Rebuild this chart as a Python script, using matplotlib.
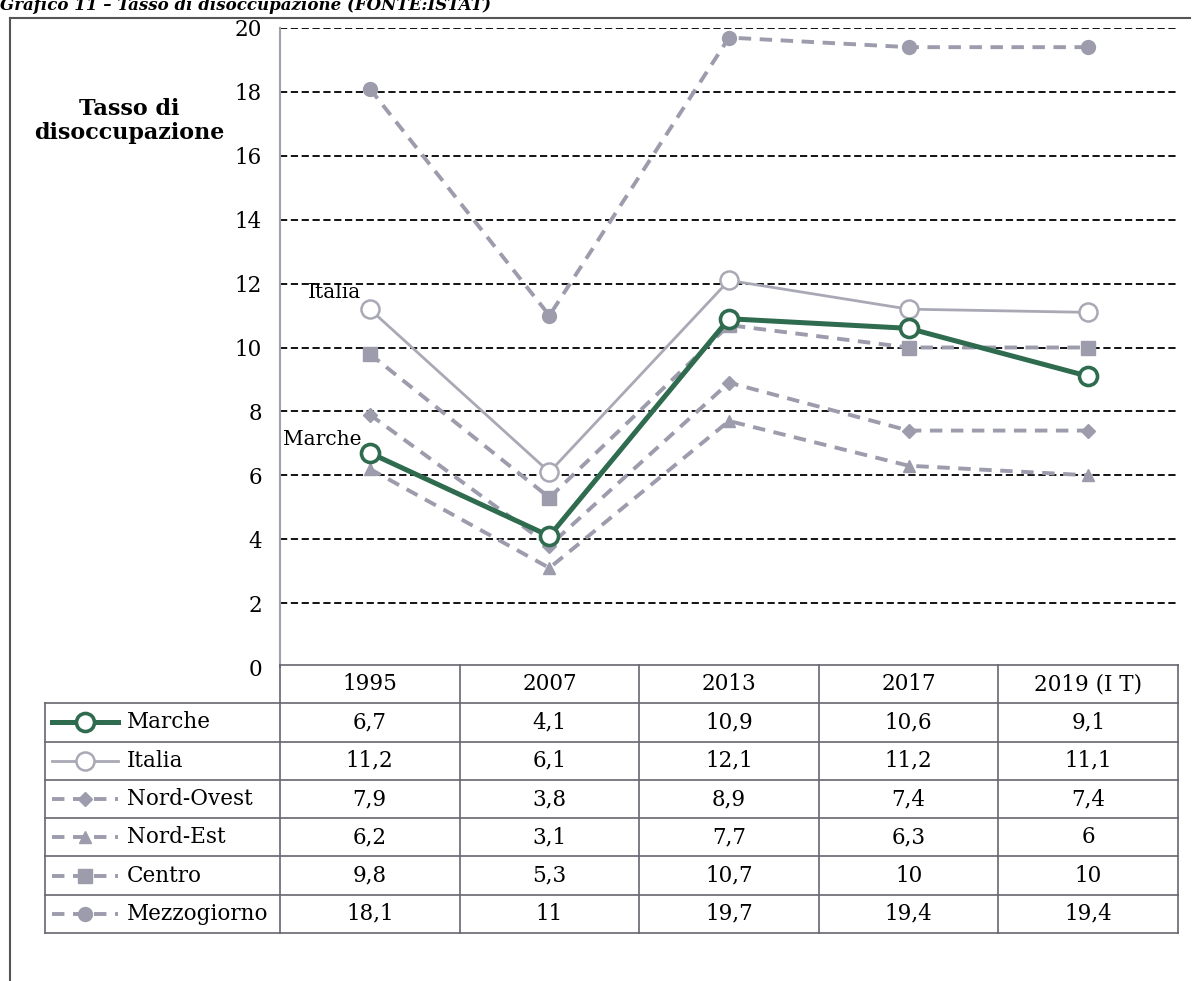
import numpy as np
import matplotlib
matplotlib.use("Agg")
import matplotlib.pyplot as plt
from matplotlib.lines import Line2D

plt.rcParams["font.family"] = ["DejaVu Serif"]

# ---------------------------------------------------------------
# dati (FONTE: ISTAT)
# ---------------------------------------------------------------
anni = ["1995", "2007", "2013", "2017", "2019 (I T)"]
serie = ["Marche", "Italia", "Nord-Ovest", "Nord-Est", "Centro", "Mezzogiorno"]
marche = [6.7, 4.1, 10.9, 10.6, 9.1]
italia = [11.2, 6.1, 12.1, 11.2, 11.1]
nord_ovest = [7.9, 3.8, 8.9, 7.4, 7.4]
nord_est = [6.2, 3.1, 7.7, 6.3, 6]
centro = [9.8, 5.3, 10.7, 10, 10]
mezzogiorno = [18.1, 11, 19.7, 19.4, 19.4]
yticks = [0, 2, 4, 6, 8, 10, 12, 14, 16, 18, 20]

valori = [marche, italia, nord_ovest, nord_est, centro, mezzogiorno]

GREEN = "#2f6b4e"
GRAY = "#9c9cad"
GRAY_IT = "#a9a9b6"
FS = 15.5

stili = [
    dict(color=GREEN, lw=3.6, ls="-", marker="o", ms=13, mfc="white", mec=GREEN, mew=2.6, zorder=10),
    dict(color=GRAY_IT, lw=2.0, ls="-", marker="o", ms=13, mfc="white", mec=GRAY_IT, mew=1.8, zorder=9),
    dict(color=GRAY, lw=2.8, ls=(0, (3.2, 2.2)), marker="D", ms=7, mfc=GRAY, mec=GRAY, zorder=5),
    dict(color=GRAY, lw=2.8, ls=(0, (3.2, 2.2)), marker="^", ms=9, mfc=GRAY, mec=GRAY, zorder=5),
    dict(color=GRAY, lw=2.8, ls=(0, (3.2, 2.2)), marker="s", ms=10, mfc=GRAY, mec=GRAY, zorder=6),
    dict(color=GRAY, lw=2.8, ls=(0, (3.2, 2.2)), marker="o", ms=10, mfc=GRAY, mec=GRAY, zorder=5),
]

W, H = 1197, 981
fig = plt.figure(figsize=(W / 100, H / 100), dpi=100)


def px_box(x0, y0, x1, y1):
    # box in pixel (dall'alto) -> coordinate figura
    return [x0 / W, 1 - y1 / H, (x1 - x0) / W, (y1 - y0) / H]


# cornice esterna + titolo tagliato
fig.add_artist(Line2D([10 / W, 10 / W], [0, 1 - 18 / H], color="#555555", lw=1.5))
fig.add_artist(Line2D([10 / W, 1190 / W], [1 - 18 / H, 1 - 18 / H], color="#555555", lw=1.5))
fig.text(0.0, 1 - 10 / H, "Grafico 11 \u2013 Tasso di disoccupazione (FONTE:ISTAT)",
         fontsize=12, fontweight="bold", fontstyle="italic", ha="left", va="baseline")

# ---------------------------------------------------------------
# grafico
# ---------------------------------------------------------------
ax = fig.add_axes(px_box(280, 28, 1178, 667))
x = np.arange(len(anni))
for vals, st in zip(valori, stili):
    ax.plot(x, vals, **st)

ax.set_xlim(-0.5, len(anni) - 0.5)
ax.set_ylim(0, 20)
ax.set_yticks(yticks)
ax.set_xticks([])
for t in yticks[1:]:
    ax.axhline(t, color="black", lw=1.3, ls=(0, (4, 2)), zorder=1)
for s in ["top", "right", "bottom"]:
    ax.spines[s].set_visible(False)
ax.spines["left"].set_color("#a0a0a8")
ax.spines["left"].set_linewidth(1.5)
ax.tick_params(axis="y", length=0, pad=13, labelsize=FS)
ax.set_facecolor("none")

ax.annotate("Italia", (0, italia[0]), xytext=(-6, 12), textcoords="offset points",
            ha="right", va="center", fontsize=FS - 1)
ax.annotate("Marche", (0, marche[0]), xytext=(-6, 10), textcoords="offset points",
            ha="right", va="center", fontsize=FS - 1)

fig.text(129 / W, 1 - 121 / H, "Tasso di\ndisoccupazione", fontsize=16, fontweight="bold",
         ha="center", va="center", multialignment="center", linespacing=1.1)

# ---------------------------------------------------------------
# tabella dati
# ---------------------------------------------------------------
colw = (1178 - 280) / len(anni)
x_left = -0.5 - (280 - 45) / colw
tax = fig.add_axes(px_box(45, 665, 1178, 933))
tax.set_xlim(x_left, len(anni) - 0.5)
tax.set_ylim(0, len(serie) + 1)
tax.axis("off")

lc = "#666670"
nrow = len(serie)
# linee orizzontali
tax.plot([-0.5, len(anni) - 0.5], [nrow + 1, nrow + 1], color=lc, lw=1.2, clip_on=False)
for r in range(nrow + 1):
    tax.plot([x_left, len(anni) - 0.5], [r, r], color=lc, lw=1.2, clip_on=False)
# linee verticali
tax.plot([x_left, x_left], [0, nrow], color=lc, lw=1.2, clip_on=False)
for c in range(len(anni) + 1):
    tax.plot([c - 0.5, c - 0.5], [0, nrow + 1], color=lc, lw=1.2, clip_on=False)

for c, a in enumerate(anni):
    tax.text(c, nrow + 0.5, a, ha="center", va="center", fontsize=FS)

for r, (nome, vals, st) in enumerate(zip(serie, valori, stili)):
    yc = nrow - r - 0.5
    for c, v in enumerate(vals):
        tax.text(c, yc, f"{v:g}".replace(".", ","), ha="center", va="center", fontsize=FS)
    sx0 = x_left + 7 / colw
    sx1 = x_left + 73 / colw
    st_leg = dict(st)
    st_leg["zorder"] = 3
    tax.plot([sx0, (sx0 + sx1) / 2, sx1], [yc, yc, yc], markevery=[1], clip_on=False, **st_leg)
    tax.text(x_left + 82 / colw, yc, nome, ha="left", va="center", fontsize=FS)

fig.savefig("out.png", dpi=100)
